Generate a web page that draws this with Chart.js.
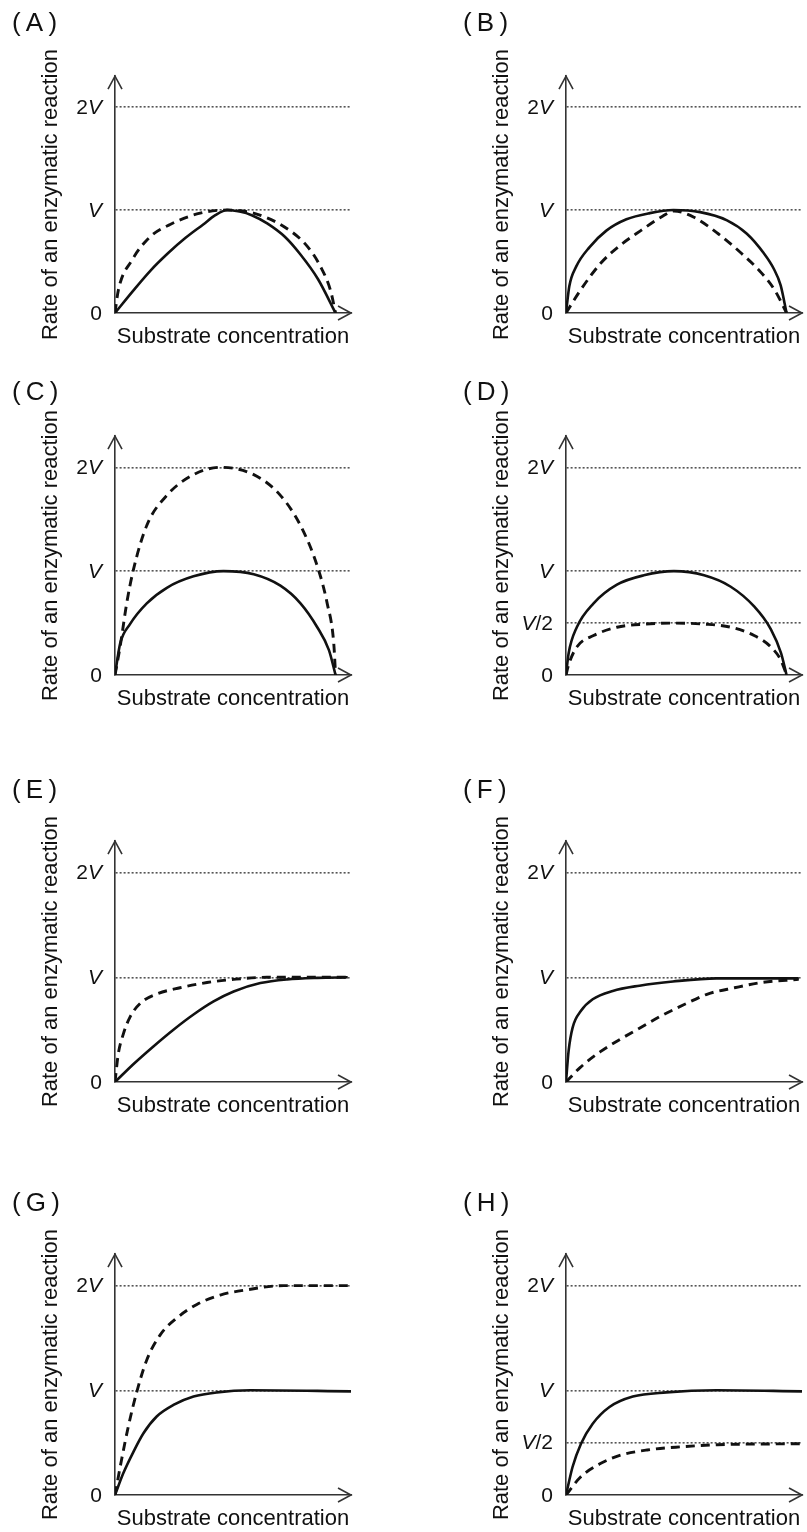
<!DOCTYPE html>
<html>
<head>
<meta charset="utf-8">
<script src="https://cdn.jsdelivr.net/npm/chart.js@4.4.0/dist/chart.umd.min.js"></script>
<style>
  html, body { margin: 0; padding: 0; background: #fff; }
  body { width: 807px; height: 1532px; position: relative; overflow: hidden; }
  canvas { position: absolute; }
</style>
</head>
<body>
<script>
// labels
var panelNames = ['A', 'B', 'C', 'D', 'E', 'F', 'G', 'H'];
var tickValsFull = [0, 1, 2];
var tickLabelsFull = ['0', 'V', '2V'];
var tickValsHalf = [0, 0.5, 1, 2];
var tickLabelsHalf = ['0', 'V/2', 'V', '2V'];
var yTitle = 'Rate of an enzymatic reaction';
var xTitle = 'Substrate concentration';

// curves: x = substrate (0..1 across the plot), y = rate in units of V
var aSolidX = [0, 0.08, 0.16, 0.24, 0.32, 0.40, 0.455, 0.51, 0.565, 0.62, 0.69, 0.77, 0.84, 0.92, 1.0];
var aSolidY = [0, 0.21, 0.41, 0.58, 0.73, 0.86, 0.95, 1.0, 0.985, 0.95, 0.87, 0.74, 0.57, 0.33, 0];
var aDashX = [0, 0.015, 0.076, 0.159, 0.25, 0.386, 0.507, 0.628, 0.765, 0.871, 0.932, 0.977, 1.0];
var aDashY = [0, 0.22, 0.51, 0.74, 0.86, 0.97, 1.0, 0.97, 0.84, 0.65, 0.45, 0.22, 0];

var bSolidX = [0, 0.015, 0.046, 0.107, 0.183, 0.274, 0.38, 0.487, 0.608, 0.73, 0.82, 0.897, 0.942, 0.973, 1.0];
var bSolidY = [0, 0.26, 0.45, 0.64, 0.8, 0.91, 0.97, 1.0, 0.98, 0.9, 0.77, 0.58, 0.43, 0.27, 0];
var bDashX = [0, 0.065, 0.156, 0.247, 0.339, 0.43, 0.49, 0.58, 0.69, 0.795, 0.886, 0.947, 1.0];
var bDashY = [0, 0.22, 0.48, 0.66, 0.8, 0.93, 0.99, 0.93, 0.77, 0.58, 0.39, 0.22, 0];

var cSolidX = [0, 0.023, 0.068, 0.144, 0.235, 0.356, 0.492, 0.629, 0.75, 0.841, 0.917, 0.97, 1.0];
var cSolidY = [0, 0.3, 0.49, 0.69, 0.84, 0.95, 1.0, 0.97, 0.86, 0.69, 0.46, 0.24, 0];
var cDashX = [0, 0.023, 0.053, 0.083, 0.144, 0.235, 0.356, 0.477, 0.629, 0.75, 0.841, 0.917, 0.962, 0.992, 1.0];
var cDashY = [0, 0.27, 0.69, 1.01, 1.44, 1.73, 1.93, 2.0, 1.93, 1.73, 1.44, 1.05, 0.69, 0.3, 0];

var dSolidX = [0, 0.012, 0.049, 0.125, 0.231, 0.353, 0.489, 0.626, 0.747, 0.853, 0.929, 0.975, 1.0];
var dSolidY = [0, 0.21, 0.46, 0.69, 0.87, 0.96, 1.0, 0.96, 0.85, 0.66, 0.44, 0.21, 0];
var dDashX = [0, 0.012, 0.049, 0.125, 0.231, 0.353, 0.489, 0.626, 0.747, 0.853, 0.929, 0.975, 1.0];
var dDashY = [0, 0.1, 0.27, 0.38, 0.46, 0.49, 0.5, 0.49, 0.46, 0.38, 0.27, 0.14, 0];

var eSolidX = [0, 0.083, 0.174, 0.265, 0.356, 0.447, 0.538, 0.659, 0.78, 0.917, 1.055];
var eSolidY = [0, 0.17, 0.34, 0.5, 0.645, 0.77, 0.865, 0.945, 0.98, 0.995, 1.0];
var eDashX = [0, 0.015, 0.038, 0.068, 0.114, 0.189, 0.295, 0.417, 0.538, 0.689, 1.055];
var eDashY = [0, 0.27, 0.46, 0.62, 0.75, 0.84, 0.9, 0.95, 0.98, 1.0, 1.0];

var fSolidX = [0, 0.012, 0.03, 0.068, 0.121, 0.212, 0.333, 0.485, 0.682, 1.055];
var fSolidY = [0, 0.3, 0.52, 0.68, 0.79, 0.87, 0.92, 0.96, 0.99, 0.99];
var fDashX = [0, 0.065, 0.156, 0.247, 0.339, 0.43, 0.536, 0.642, 0.764, 0.885, 1.055];
var fDashY = [0, 0.14, 0.29, 0.41, 0.52, 0.63, 0.74, 0.84, 0.9, 0.95, 0.98];

var gSolidX = [0, 0.038, 0.083, 0.129, 0.189, 0.265, 0.356, 0.462, 0.614, 1.07];
var gSolidY = [0, 0.21, 0.41, 0.59, 0.75, 0.86, 0.94, 0.98, 1.0, 0.99];
var gDashX = [0, 0.03, 0.061, 0.098, 0.144, 0.205, 0.28, 0.371, 0.477, 0.598, 0.765, 1.07];
var gDashY = [0, 0.34, 0.66, 0.98, 1.29, 1.53, 1.69, 1.82, 1.91, 1.96, 2.0, 2.0];

var hSolidX = [0, 0.03, 0.068, 0.121, 0.197, 0.303, 0.455, 0.682, 1.07];
var hSolidY = [0, 0.27, 0.49, 0.68, 0.84, 0.94, 0.98, 1.0, 0.99];
var hDashX = [0, 0.065, 0.156, 0.247, 0.368, 0.52, 0.686, 1.07];
var hDashY = [0, 0.17, 0.3, 0.38, 0.43, 0.46, 0.48, 0.49];

// page layout
var colLeft = [0, 451];
var rowTop = [0, 369, 767, 1180];
var rowHeight = [354, 347, 356, 356];
var titlePadBottom = [38, 29, 36, 36];
var ink = '#111';

Chart.defaults.font.family = '"Liberation Sans", Arial, sans-serif';
Chart.defaults.color = ink;

function toPts(xs, ys) {
  return xs.map(function (x, k) { return { x: x, y: ys[k] }; });
}

function makePanel(i, solidX, solidY, dashX, dashY, tVals, tLabels) {
  var row = Math.floor(i / 2), col = i % 2;
  var cv = document.createElement('canvas');
  cv.width = 356;
  cv.height = rowHeight[row];
  cv.style.left = colLeft[col] + 'px';
  cv.style.top = rowTop[row] + 'px';
  document.body.appendChild(cv);

  // tick labels with italic V, plus the arrow heads on both axes
  var axisDeco = {
    id: 'axisDeco',
    afterDraw: function (chart) {
      var ctx = chart.ctx, a = chart.chartArea, ys = chart.scales.y;
      var reg = '21px "Liberation Sans", Arial, sans-serif';
      var ita = 'italic 21px "Liberation Sans", Arial, sans-serif';
      ctx.save();
      ctx.fillStyle = ink;
      ctx.textBaseline = 'middle';
      ctx.textAlign = 'left';
      tVals.forEach(function (v, k) {
        var lab = tLabels[k];
        var y = ys.getPixelForValue(v) + 1;
        var parts = lab.split('').map(function (ch) { return { ch: ch, f: ch === 'V' ? ita : reg }; });
        var w = 0;
        parts.forEach(function (p) { ctx.font = p.f; p.w = ctx.measureText(p.ch).width; w += p.w; });
        var x = a.left - 13 - w;
        parts.forEach(function (p) { ctx.font = p.f; ctx.fillText(p.ch, x, y); x += p.w; });
      });
      ctx.strokeStyle = '#333';
      ctx.lineWidth = 1.6;
      ctx.beginPath();
      ctx.moveTo(a.left - 7, a.top + 13);
      ctx.lineTo(a.left, a.top);
      ctx.lineTo(a.left + 7, a.top + 13);
      ctx.moveTo(a.right - 13, a.bottom - 7);
      ctx.lineTo(a.right, a.bottom);
      ctx.lineTo(a.right - 13, a.bottom + 7);
      ctx.stroke();
      ctx.restore();
    }
  };

  new Chart(cv, {
    type: 'line',
    data: {
      datasets: [
        {
          label: 'solid',
          data: toPts(solidX, solidY),
          borderColor: '#111',
          borderWidth: 2.6,
          pointRadius: 0,
          cubicInterpolationMode: 'monotone',
          fill: false
        },
        {
          label: 'dashed',
          data: toPts(dashX, dashY),
          borderColor: '#111',
          borderWidth: 2.9,
          borderDash: [9, 6],
          pointRadius: 0,
          cubicInterpolationMode: 'monotone',
          fill: false
        }
      ]
    },
    options: {
      responsive: false,
      animation: false,
      devicePixelRatio: 1,
      layout: { padding: { left: 12, right: 5, top: 0, bottom: 0 } },
      plugins: {
        legend: { display: false },
        tooltip: { enabled: false },
        title: {
          display: true,
          text: '(\u2009' + panelNames[i] + '\u2009)',
          align: 'start',
          color: ink,
          font: { size: 26, weight: 'normal' },
          padding: { top: 8, bottom: titlePadBottom[row] - 1 }
        }
      },
      scales: {
        x: {
          type: 'linear',
          min: 0,
          max: 1.07,
          ticks: { display: false },
          grid: { display: false, drawTicks: false },
          border: { display: true, color: '#333', width: 1.6 },
          title: { display: true, text: xTitle, color: ink, font: { size: 22 }, padding: { top: 10, bottom: 4 } },
          afterFit: function (s) { s.height = 41; }
        },
        y: {
          type: 'linear',
          min: 0,
          max: 2.3,
          ticks: { display: false },
          afterBuildTicks: function (s) { s.ticks = tVals.map(function (v) { return { value: v }; }); },
          grid: {
            drawTicks: false,
            lineWidth: 1.6,
            color: function (c) { return c.tick && c.tick.value === 0 ? 'rgba(0,0,0,0)' : '#555'; }
          },
          border: { display: true, color: '#333', width: 1.6, dash: [2, 2] },
          title: { display: true, text: yTitle, color: ink, font: { size: 22 }, padding: { top: 26, bottom: 4 } },
          afterFit: function (s) { s.width = 103; }
        }
      }
    },
    plugins: [axisDeco]
  });
}

makePanel(0, aSolidX, aSolidY, aDashX, aDashY, tickValsFull, tickLabelsFull);
makePanel(1, bSolidX, bSolidY, bDashX, bDashY, tickValsFull, tickLabelsFull);
makePanel(2, cSolidX, cSolidY, cDashX, cDashY, tickValsFull, tickLabelsFull);
makePanel(3, dSolidX, dSolidY, dDashX, dDashY, tickValsHalf, tickLabelsHalf);
makePanel(4, eSolidX, eSolidY, eDashX, eDashY, tickValsFull, tickLabelsFull);
makePanel(5, fSolidX, fSolidY, fDashX, fDashY, tickValsFull, tickLabelsFull);
makePanel(6, gSolidX, gSolidY, gDashX, gDashY, tickValsFull, tickLabelsFull);
makePanel(7, hSolidX, hSolidY, hDashX, hDashY, tickValsHalf, tickLabelsHalf);
</script>
</body>
</html>
